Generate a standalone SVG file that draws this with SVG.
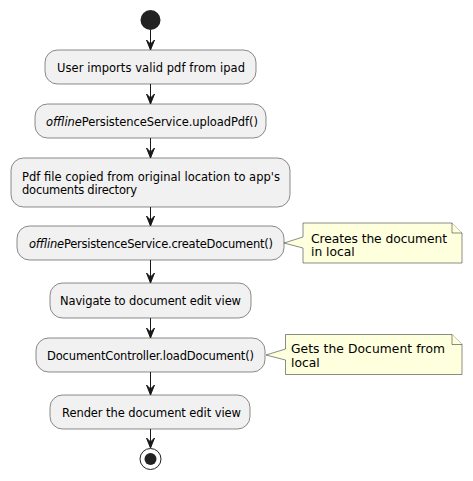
<svg xmlns="http://www.w3.org/2000/svg" width="473" height="481" viewBox="0 0 473 481">
<style>
.act{fill:#F1F1F1;stroke:#181818;stroke-width:0.5}
.note{fill:#FEFFDD;stroke:#181818;stroke-width:0.5}
.t{font-family:"DejaVu Sans","Liberation Sans",sans-serif;font-size:11.5px;fill:#000000}
.nt{font-family:"DejaVu Sans","Liberation Sans",sans-serif;font-size:12.3px;fill:#000000}
.ln{stroke:#181818;stroke-width:1;fill:none}
.ah{fill:#181818;stroke:#181818;stroke-width:1}
</style>
<rect width="473" height="481" fill="#FFFFFF"/>
<g id="start"><circle cx="150.5" cy="20" r="10" fill="#222222"/></g>
<g id="connectors">
<line class="ln" x1="150.5" y1="30" x2="150.5" y2="50"/>
<polygon class="ah" points="146.5,40 150.5,50 154.5,40 150.5,44"/>
<line class="ln" x1="150.5" y1="84" x2="150.5" y2="104"/>
<polygon class="ah" points="146.5,94 150.5,104 154.5,94 150.5,98"/>
<line class="ln" x1="150.5" y1="138" x2="150.5" y2="158"/>
<polygon class="ah" points="146.5,148 150.5,158 154.5,148 150.5,152"/>
<line class="ln" x1="150.5" y1="207" x2="150.5" y2="226"/>
<polygon class="ah" points="146.5,216 150.5,226 154.5,216 150.5,220"/>
<line class="ln" x1="150.5" y1="260" x2="150.5" y2="283"/>
<polygon class="ah" points="146.5,273 150.5,283 154.5,273 150.5,277"/>
<line class="ln" x1="150.5" y1="318" x2="150.5" y2="338"/>
<polygon class="ah" points="146.5,328 150.5,338 154.5,328 150.5,332"/>
<line class="ln" x1="150.5" y1="372" x2="150.5" y2="395"/>
<polygon class="ah" points="146.5,385 150.5,395 154.5,385 150.5,389"/>
<line class="ln" x1="150.5" y1="429" x2="150.5" y2="448"/>
<polygon class="ah" points="146.5,438 150.5,448 154.5,438 150.5,442"/>
</g>
<g id="n1">
<rect class="act" x="45" y="50" width="211" height="34" rx="12.5" ry="12.5"/>
<text class="t" x="57" y="71.5" textLength="188" lengthAdjust="spacing">User imports valid pdf from ipad</text>
</g>
<g id="n2">
<rect class="act" x="35" y="104" width="231" height="34" rx="12.5" ry="12.5"/>
<text class="t" x="46" y="125.5" textLength="212" lengthAdjust="spacing"><tspan font-style="italic">offline</tspan>PersistenceService.uploadPdf()</text>
</g>
<g id="n3">
<rect class="act" x="11" y="158" width="279" height="49" rx="12.5" ry="12.5"/>
<text class="t" x="22" y="180.5" textLength="258" lengthAdjust="spacing">Pdf file copied from original location to app's</text>
<text class="t" x="22" y="194" textLength="115" lengthAdjust="spacing">documents directory</text>
</g>
<g id="n4">
<rect class="act" x="17" y="226" width="267" height="34" rx="12.5" ry="12.5"/>
<text class="t" x="29" y="247.5" textLength="244" lengthAdjust="spacing"><tspan font-style="italic">offline</tspan>PersistenceService.createDocument()</text>
</g>
<g id="note1">
<path class="note" d="M303,223 L452,223 L462,233 L462,263 L303,263 L303,248 L284,243 L303,237 Z"/>
<path class="note" d="M452,223 L452,233 L462,233"/>
<text class="nt" x="311" y="242.5" textLength="136" lengthAdjust="spacing">Creates the document</text>
<text class="nt" x="311" y="256">in local</text>
</g>
<g id="n5">
<rect class="act" x="50" y="283" width="201" height="35" rx="12.5" ry="12.5"/>
<text class="t" x="60" y="305" textLength="181" lengthAdjust="spacing">Navigate to document edit view</text>
</g>
<g id="n6">
<rect class="act" x="36" y="338" width="229" height="34" rx="12.5" ry="12.5"/>
<text class="t" x="47" y="359.5" textLength="207" lengthAdjust="spacing">DocumentController.loadDocument()</text>
</g>
<g id="note2">
<path class="note" d="M285.5,334.5 L452,334.5 L462,344.5 L462,374.5 L285.5,374.5 L285.5,360 L266,355 L285.5,349 Z"/>
<path class="note" d="M452,334.5 L452,344.5 L462,344.5"/>
<text class="nt" x="291" y="353" textLength="154" lengthAdjust="spacing">Gets the Document from</text>
<text class="nt" x="291" y="366.5">local</text>
</g>
<g id="n7">
<rect class="act" x="50" y="395" width="200" height="34" rx="12.5" ry="12.5"/>
<text class="t" x="62" y="416.5" textLength="179" lengthAdjust="spacing">Render the document edit view</text>
</g>
<g id="end">
<circle cx="150.5" cy="459" r="10.5" fill="none" stroke="#222222" stroke-width="1"/>
<circle cx="150.5" cy="459" r="6" fill="#222222"/>
</g>
</svg>
